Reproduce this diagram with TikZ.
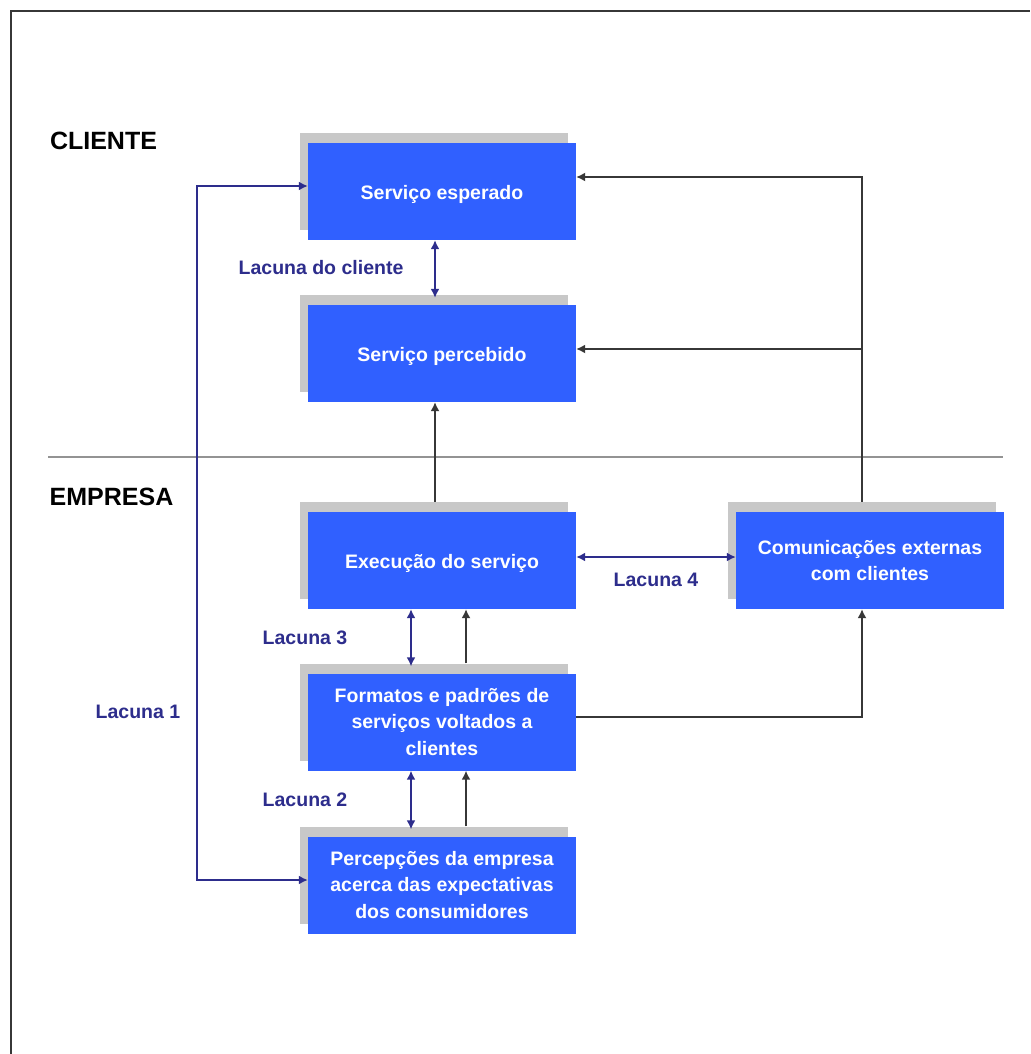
\documentclass[tikz,border=0pt]{standalone}
\usepackage{fontspec}
\setmainfont{Liberation Sans}
\usetikzlibrary{shadows,arrows.meta,calc}

\definecolor{boxblue}{RGB}{48,96,255}
\definecolor{shadowgray}{RGB}{200,200,200}
\definecolor{lacnavy}{RGB}{45,45,140}
\definecolor{linegray}{RGB}{55,55,55}

\tikzset{
  gapbox/.style={fill=boxblue, draw=none, minimum width=268pt, minimum height=97pt,
    inner sep=4pt, text=white, align=center,
    font=\fontsize{19.5}{26.5}\selectfont\bfseries,
    general shadow={fill=shadowgray, shadow xshift=-8pt, shadow yshift=10pt}},
  onelinebox/.style={gapbox, text height=20pt, text depth=5pt},
  gaplabel/.style={text=lacnavy, inner sep=0pt, font=\fontsize{19.5}{24}\selectfont\bfseries},
  sidelabel/.style={text=black, inner sep=0pt, font=\fontsize{25}{30}\selectfont\bfseries},
  gaplink/.style={draw=lacnavy, line width=1.6pt, {Latex[length=9pt,width=9pt]}-{Latex[length=9pt,width=9pt]}},
  flowlink/.style={draw=linegray, line width=1.5pt, -{Latex[length=9pt,width=9pt]}}
}

\begin{document}
\begin{tikzpicture}[x=1pt,y=-1pt]
  \useasboundingbox (0,0) rectangle (1030,1054);
  \fill[white] (0,0) rectangle (1030,1054);

  % outer frame (top and left edges)
  \draw[linegray, line width=2.5pt] (11,1054) -- (11,11) -- (1030,11);
  % divider between client and company
  \draw[gray!85, line width=2pt] (48,457) -- (1003,457);

  \node[sidelabel] (cliente) at (103.5,141) {CLIENTE};
  \node[sidelabel] (empresa) at (111.5,497) {EMPRESA};

  % boxes
  \node[onelinebox] (esp) at (442,191.5) {Serviço esperado};
  \node[onelinebox] (perc) at (442,353.5) {Serviço percebido};
  \node[onelinebox] (exe) at (442,560.5) {Execução do serviço};
  \node[gapbox] (com) at (870,560.5) {Comunicações externas\\com clientes};
  \node[gapbox] (fmt) at (442,722) {Formatos e padrões de\\serviços voltados a\\clientes};
  \node[gapbox] (pce) at (442,885) {Percepções da empresa\\acerca das expectativas\\dos consumidores};

  % gap labels
  \node[gaplabel] (lcli) at (321,268) {Lacuna do cliente};
  \node[gaplabel] (l3) at (305,638) {Lacuna 3};
  \node[gaplabel] (l2) at (305,800) {Lacuna 2};
  \node[gaplabel] (l1) at (138,712) {Lacuna 1};
  \node[gaplabel] (l4) at (656,580) {Lacuna 4};

  % helper columns
  \coordinate (leftcol) at (197,0);
  \coordinate (rightcol) at (862,0);

  % customer gap
  \draw[gaplink] ([xshift=-7pt]esp.south) -- ([xshift=-7pt,yshift=7pt]perc.north);
  % execution feeds perceived service
  \draw[flowlink] ([xshift=-7pt,yshift=10pt]exe.north) -- ([xshift=-7pt]perc.south);

  % external communications feed both customer boxes
  \coordinate (pesp) at ([yshift=14.5pt]esp.east);
  \coordinate (pperc) at ([yshift=4.5pt]perc.east);
  \draw[flowlink] ([xshift=-8pt,yshift=10pt]com.north) |- (pesp);
  \draw[flowlink] (rightcol |- pperc) -- (pperc);

  % gap 4
  \draw[gaplink] ([yshift=3.5pt]exe.east) -- ([yshift=3.5pt]com.west);

  % gap 3 and standards feeding execution
  \draw[gaplink] ([xshift=-31pt]exe.south) -- ([xshift=-31pt,yshift=7pt]fmt.north);
  \draw[flowlink] ([xshift=24pt,yshift=10pt]fmt.north) -- ([xshift=24pt]exe.south);

  % standards feed external communications
  \coordinate (pfmt) at ([yshift=5pt]fmt.east);
  \draw[flowlink] (pfmt) -| ([xshift=-8pt]com.south);

  % gap 2 and perceptions feeding standards
  \draw[gaplink] ([xshift=-31pt]fmt.south) -- ([xshift=-31pt,yshift=7pt]pce.north);
  \draw[flowlink] ([xshift=24pt,yshift=10pt]pce.north) -- ([xshift=24pt]fmt.south);

  % gap 1
  \coordinate (ppce) at ([yshift=5pt]pce.west);
  \coordinate (pespw) at ([yshift=5.5pt]esp.west);
  \draw[gaplink] (ppce) -- (leftcol |- ppce) -- (leftcol |- pespw) -- (pespw);
\end{tikzpicture}
\end{document}
